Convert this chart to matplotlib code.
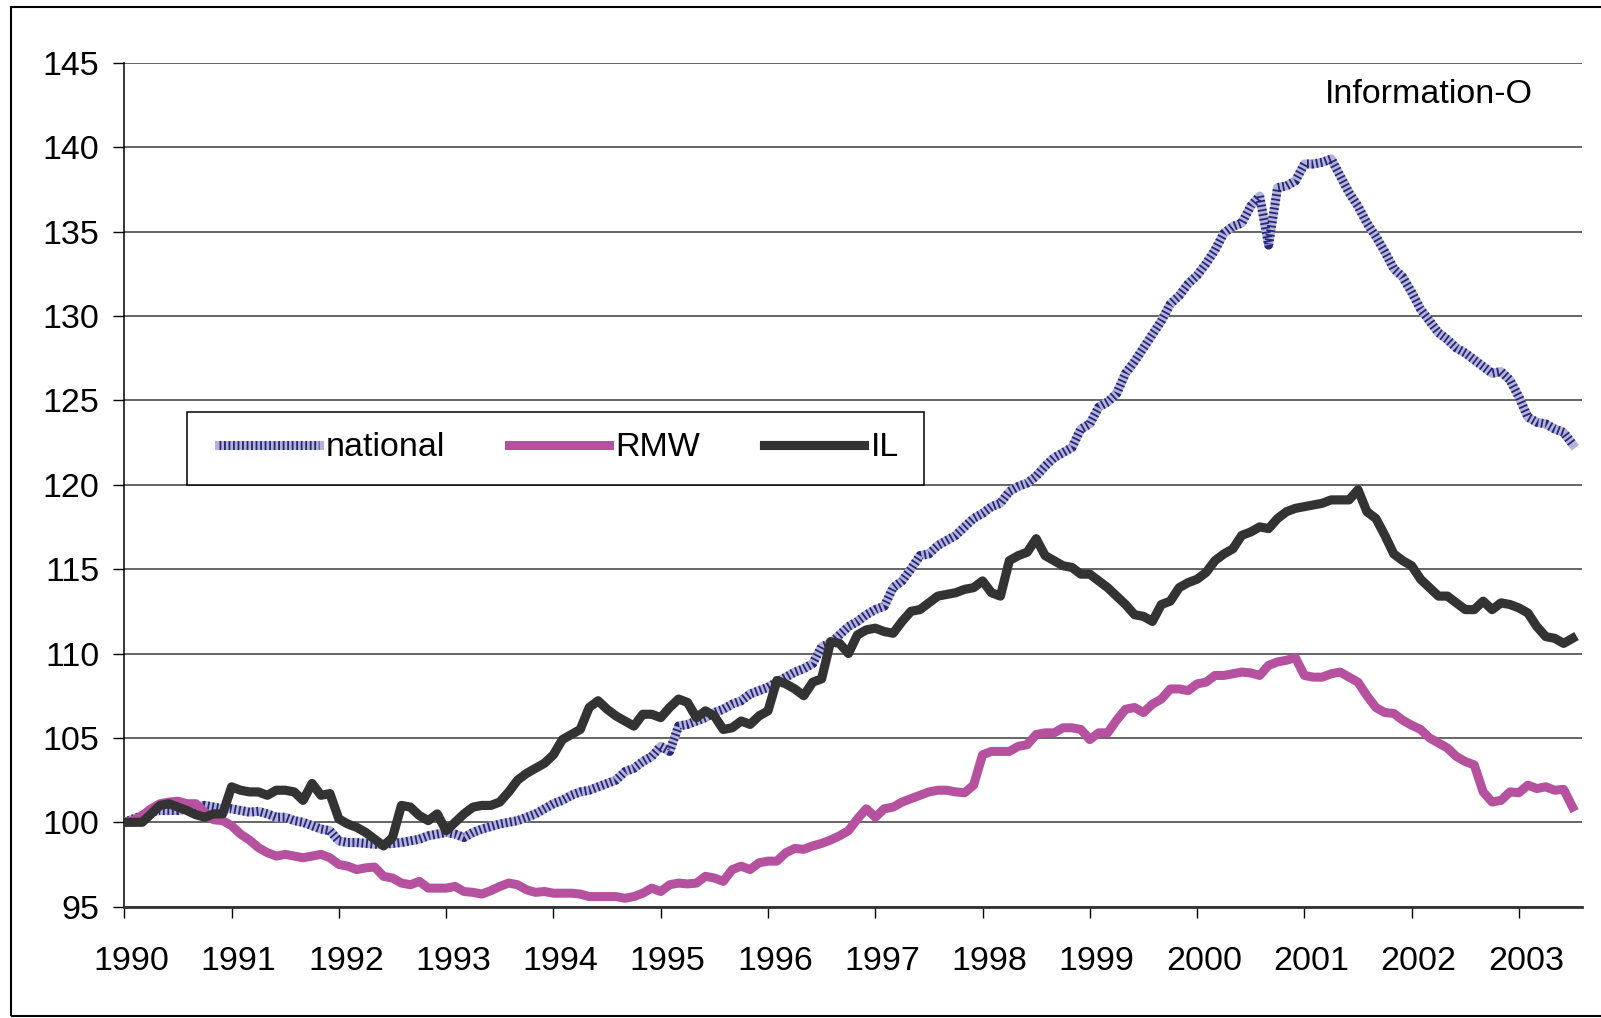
import numpy as np
import matplotlib
matplotlib.use('Agg')
import matplotlib.pyplot as plt
from matplotlib.patches import Rectangle
from matplotlib.legend_handler import HandlerTuple
from matplotlib.transforms import ScaledTranslation

plt.rcParams['font.family'] = ['Liberation Sans', 'DejaVu Sans']

# ---------------- data (monthly, Jan 1990 - Jul 2003) ----------------
start_year = 1990
series_names = ['national', 'RMW', 'IL']

national = [
    100.0, 100.2, 100.4, 100.6, 100.7, 100.7, 100.7, 100.8, 100.9, 101.0, 100.9, 100.8,   # 1990
    100.8, 100.7, 100.6, 100.65, 100.5, 100.3, 100.3, 100.1, 100.0, 99.8, 99.6, 99.5,     # 1991
    98.9, 98.8, 98.8, 98.75, 98.7, 98.7, 98.75, 98.8, 98.9, 99.0, 99.2, 99.3,             # 1992
    99.4, 99.3, 99.1, 99.4, 99.6, 99.75, 99.9, 100.0, 100.1, 100.3, 100.5, 100.8,         # 1993
    101.1, 101.3, 101.6, 101.8, 101.9, 102.1, 102.3, 102.5, 103.0, 103.2, 103.6, 103.9,   # 1994
    104.5, 104.2, 105.7, 105.8, 106.0, 106.2, 106.5, 106.7, 107.0, 107.2, 107.6, 107.8,   # 1995
    108.0, 108.3, 108.6, 108.9, 109.1, 109.4, 110.4, 110.6, 111.1, 111.6, 111.9, 112.3,   # 1996
    112.6, 112.8, 113.9, 114.3, 115.0, 115.8, 115.9, 116.4, 116.7, 117.0, 117.5, 118.0,   # 1997
    118.3, 118.7, 118.9, 119.6, 119.9, 120.1, 120.5, 121.1, 121.6, 121.9, 122.2, 123.3,   # 1998
    123.6, 124.6, 124.9, 125.4, 126.6, 127.3, 128.1, 128.9, 129.7, 130.7, 131.2, 131.9,   # 1999
    132.4, 133.1, 133.9, 134.9, 135.3, 135.5, 136.5, 137.1, 134.2, 137.6, 137.7, 138.0,   # 2000
    139.0, 139.0, 139.1, 139.3, 138.3, 137.3, 136.5, 135.5, 134.7, 133.8, 132.8, 132.3,   # 2001
    131.4, 130.4, 129.7, 129.0, 128.6, 128.1, 127.8, 127.4, 127.0, 126.6, 126.7, 126.2,   # 2002
    125.2, 124.0, 123.7, 123.6, 123.3, 123.1, 122.4,                                      # 2003
]

rmw = [
    100.0, 100.1, 100.4, 100.8, 101.1, 101.2, 101.25, 101.1, 101.1, 100.6, 100.15, 100.1, # 1990
    99.8, 99.3, 98.95, 98.5, 98.2, 98.0, 98.1, 98.0, 97.9, 98.0, 98.1, 97.9,              # 1991
    97.5, 97.4, 97.2, 97.3, 97.35, 96.8, 96.7, 96.4, 96.3, 96.5, 96.1, 96.1,              # 1992
    96.1, 96.2, 95.9, 95.85, 95.75, 95.95, 96.2, 96.4, 96.3, 96.0, 95.85, 95.9,           # 1993
    95.8, 95.8, 95.8, 95.75, 95.6, 95.6, 95.6, 95.6, 95.5, 95.6, 95.8, 96.1,              # 1994
    95.9, 96.3, 96.4, 96.35, 96.4, 96.8, 96.7, 96.5, 97.2, 97.4, 97.2, 97.6,              # 1995
    97.7, 97.7, 98.2, 98.45, 98.4, 98.6, 98.75, 98.95, 99.2, 99.5, 100.2, 100.8,          # 1996
    100.3, 100.8, 100.9, 101.2, 101.4, 101.6, 101.8, 101.9, 101.9, 101.8, 101.75, 102.2,  # 1997
    104.0, 104.2, 104.2, 104.2, 104.5, 104.6, 105.2, 105.3, 105.3, 105.6, 105.6, 105.5,   # 1998
    104.9, 105.3, 105.3, 106.05, 106.7, 106.8, 106.5, 107.0, 107.3, 107.9, 107.9, 107.8,  # 1999
    108.2, 108.3, 108.7, 108.7, 108.8, 108.9, 108.85, 108.7, 109.3, 109.5, 109.6, 109.75, # 2000
    108.7, 108.6, 108.6, 108.8, 108.9, 108.6, 108.3, 107.5, 106.8, 106.5, 106.45, 106.05, # 2001
    105.75, 105.5, 105.0, 104.7, 104.4, 103.9, 103.6, 103.4, 101.8, 101.2, 101.3, 101.8,  # 2002
    101.75, 102.2, 102.0, 102.1, 101.9, 101.95, 100.9,                                    # 2003
]

il = [
    100.0, 100.0, 100.0, 100.5, 101.0, 101.1, 100.9, 100.7, 100.45, 100.3, 100.5, 100.5,  # 1990
    102.1, 101.9, 101.8, 101.8, 101.6, 101.9, 101.9, 101.8, 101.3, 102.3, 101.6, 101.7,   # 1991
    100.2, 99.9, 99.7, 99.4, 99.0, 98.6, 99.1, 101.0, 100.9, 100.4, 100.1, 100.5,         # 1992
    99.5, 100.0, 100.5, 100.9, 101.0, 101.0, 101.2, 101.8, 102.5, 102.9, 103.2, 103.5,    # 1993
    104.0, 104.9, 105.2, 105.5, 106.8, 107.2, 106.7, 106.3, 106.0, 105.7, 106.4, 106.4,   # 1994
    106.2, 106.8, 107.3, 107.1, 106.2, 106.6, 106.3, 105.5, 105.6, 106.0, 105.8, 106.3,   # 1995
    106.6, 108.4, 108.2, 107.9, 107.5, 108.3, 108.5, 110.7, 110.6, 110.0, 111.1, 111.4,   # 1996
    111.5, 111.3, 111.2, 111.9, 112.5, 112.6, 113.0, 113.4, 113.5, 113.6, 113.8, 113.9,   # 1997
    114.3, 113.6, 113.4, 115.5, 115.8, 116.0, 116.8, 115.8, 115.5, 115.2, 115.1, 114.7,   # 1998
    114.7, 114.3, 113.9, 113.4, 112.9, 112.3, 112.2, 111.9, 112.9, 113.1, 113.9, 114.2,   # 1999
    114.4, 114.8, 115.5, 115.9, 116.2, 117.0, 117.2, 117.5, 117.4, 118.0, 118.4, 118.6,   # 2000
    118.7, 118.8, 118.9, 119.1, 119.1, 119.1, 119.7, 118.4, 118.0, 117.0, 115.9, 115.5,   # 2001
    115.2, 114.4, 113.9, 113.4, 113.4, 113.0, 112.6, 112.6, 113.1, 112.6, 113.0, 112.9,   # 2002
    112.7, 112.4, 111.6, 111.0, 110.9, 110.6, 110.9,                                      # 2003
]

year_ticks = list(range(1990, 2004))
y_ticks = list(range(95, 146, 5))
corner_label = 'Information-O'

# ---------------- figure ----------------
W, H = 1601, 1018
fig = plt.figure(figsize=(W / 100, H / 100), dpi=100)

def fx(px):
    return px / W

def fy(py):
    return 1 - py / H

ax_left, ax_right, ax_top, ax_bottom = 124.3, 1581.5, 62.7, 906.7
ax = fig.add_axes([fx(ax_left), fy(ax_bottom), (ax_right - ax_left) / W, (ax_bottom - ax_top) / H])

x = start_year + np.arange(len(il)) / 12.0

lw = 6.5
nat_base, = ax.plot(x, national, color='#b4b4d8', lw=lw, zorder=3)
nat_chk, = ax.plot(x, national, color='#26267a', lw=lw, dashes=(0.2, 0.3), zorder=3.1)
rmw_line, = ax.plot(x, rmw, color='#b5519f', lw=lw, zorder=3.2)
il_line, = ax.plot(x, il, color='#333333', lw=6.6, zorder=3.3)

ax.set_xlim(start_year, start_year + 163 / 12.0)
ax.set_ylim(95, 145)
ax.set_xticks(year_ticks)
ax.set_xticklabels([str(y) for y in year_ticks])
ax.set_yticks(y_ticks)
ax.set_yticklabels([str(v) for v in y_ticks])

ax.set_axisbelow(True)
ax.yaxis.grid(True, color='#3c3c3c', lw=1.1)
ax.xaxis.grid(False)
for s in ['top', 'right']:
    ax.spines[s].set_visible(False)
ax.spines['left'].set_color('black')
ax.spines['left'].set_linewidth(1.1)
ax.spines['bottom'].set_color('#333333')
ax.spines['bottom'].set_linewidth(2.0)

ax.tick_params(axis='both', direction='out', length=8, width=1.0, color='black',
               labelsize=24.5, labelcolor='black')
ax.tick_params(axis='y', pad=10)
ax.tick_params(axis='x', pad=20)
for lbl in ax.get_xticklabels():
    lbl.set_transform(lbl.get_transform() + ScaledTranslation(7 / 100, 0, fig.dpi_scale_trans))

# legend frame + legend
frame = Rectangle((fx(187), fy(485)), (924 - 187) / W, (485 - 412) / H,
                  transform=fig.transFigure, facecolor='white', edgecolor='black',
                  lw=1.1, zorder=4)
ax.add_patch(frame)
leg = ax.legend(handles=[(nat_base, nat_chk), rmw_line, il_line], labels=series_names,
                handler_map={tuple: HandlerTuple(ndivide=1)},
                ncol=3, frameon=False, loc='center left',
                bbox_to_anchor=(fx(219), fy(448)), bbox_transform=fig.transFigure,
                borderpad=0, borderaxespad=0, handlelength=2.95, handletextpad=0.2,
                columnspacing=1.85, fontsize=24.5)
leg.set_zorder(5)

fig.text(fx(1533), fy(103), corner_label, ha='right', va='baseline', fontsize=24.5)

# outer chart border
fig.add_artist(Rectangle((fx(10.5), fy(1016)), (1605 - 10.5) / W, (1016 - 6.5) / H,
                         transform=fig.transFigure, fill=False, edgecolor='black', lw=1.5))

fig.savefig('out.png', dpi=100)
